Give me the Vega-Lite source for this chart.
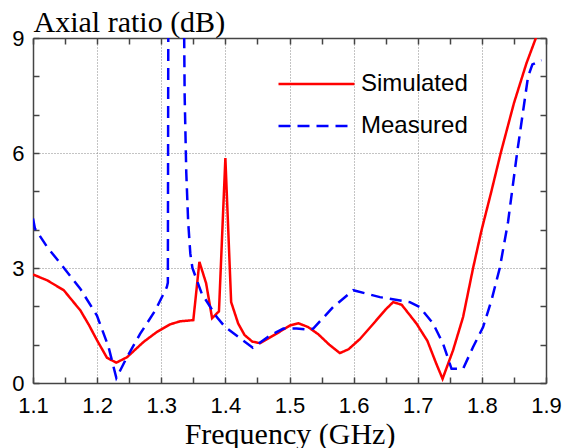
{
  "$schema": "https://vega.github.io/schema/vega-lite/v6.json",
  "width": 513,
  "height": 345,
  "autosize": "none",
  "padding": {"left": 33, "top": 38, "right": 18, "bottom": 65},
  "background": "white",
  "config": {
    "view": {"stroke": null},
    "legend": {
      "symbolType": "stroke",
      "symbolSize": 5776,
      "symbolStrokeWidth": 2.5,
      "labelFont": "Liberation Sans",
      "labelFontSize": 24,
      "labelColor": "black",
      "labelOffset": 5,
      "clipHeight": 30,
      "rowPadding": 12,
      "padding": 0
    }
  },
  "data": {
    "values": [
      {"series": "Simulated", "f": 1.1, "ar": 2.83},
      {"series": "Simulated", "f": 1.122, "ar": 2.68},
      {"series": "Simulated", "f": 1.148, "ar": 2.42},
      {"series": "Simulated", "f": 1.174, "ar": 1.89},
      {"series": "Simulated", "f": 1.187, "ar": 1.52},
      {"series": "Simulated", "f": 1.2, "ar": 1.11},
      {"series": "Simulated", "f": 1.2153, "ar": 0.66},
      {"series": "Simulated", "f": 1.2298, "ar": 0.53},
      {"series": "Simulated", "f": 1.2464, "ar": 0.67},
      {"series": "Simulated", "f": 1.2723, "ar": 1.07},
      {"series": "Simulated", "f": 1.2931, "ar": 1.33},
      {"series": "Simulated", "f": 1.3139, "ar": 1.53},
      {"series": "Simulated", "f": 1.3294, "ar": 1.61},
      {"series": "Simulated", "f": 1.35, "ar": 1.64},
      {"series": "Simulated", "f": 1.3595, "ar": 3.16},
      {"series": "Simulated", "f": 1.37, "ar": 2.6},
      {"series": "Simulated", "f": 1.3793, "ar": 1.69},
      {"series": "Simulated", "f": 1.39, "ar": 1.87},
      {"series": "Simulated", "f": 1.4, "ar": 5.87},
      {"series": "Simulated", "f": 1.409, "ar": 2.11},
      {"series": "Simulated", "f": 1.42, "ar": 1.55},
      {"series": "Simulated", "f": 1.43, "ar": 1.25},
      {"series": "Simulated", "f": 1.442, "ar": 1.08},
      {"series": "Simulated", "f": 1.454, "ar": 1.04},
      {"series": "Simulated", "f": 1.48, "ar": 1.29},
      {"series": "Simulated", "f": 1.5008, "ar": 1.5},
      {"series": "Simulated", "f": 1.5138, "ar": 1.56},
      {"series": "Simulated", "f": 1.529, "ar": 1.46},
      {"series": "Simulated", "f": 1.545, "ar": 1.27},
      {"series": "Simulated", "f": 1.562, "ar": 1.0},
      {"series": "Simulated", "f": 1.5786, "ar": 0.78},
      {"series": "Simulated", "f": 1.592, "ar": 0.88},
      {"series": "Simulated", "f": 1.61, "ar": 1.15},
      {"series": "Simulated", "f": 1.632, "ar": 1.57},
      {"series": "Simulated", "f": 1.65, "ar": 1.92},
      {"series": "Simulated", "f": 1.6617, "ar": 2.11},
      {"series": "Simulated", "f": 1.675, "ar": 2.04},
      {"series": "Simulated", "f": 1.698, "ar": 1.55},
      {"series": "Simulated", "f": 1.715, "ar": 1.1},
      {"series": "Simulated", "f": 1.729, "ar": 0.5},
      {"series": "Simulated", "f": 1.7387, "ar": 0.11},
      {"series": "Simulated", "f": 1.755, "ar": 0.85},
      {"series": "Simulated", "f": 1.7707, "ar": 1.72},
      {"series": "Simulated", "f": 1.7863, "ar": 3.0},
      {"series": "Simulated", "f": 1.7994, "ar": 3.98},
      {"series": "Simulated", "f": 1.8141, "ar": 4.95},
      {"series": "Simulated", "f": 1.8294, "ar": 6.0},
      {"series": "Simulated", "f": 1.85, "ar": 7.3},
      {"series": "Simulated", "f": 1.8695, "ar": 8.34},
      {"series": "Simulated", "f": 1.8849, "ar": 9.03},
      {"series": "Measured", "f": 1.1, "ar": 4.29},
      {"series": "Measured", "f": 1.103, "ar": 4.03},
      {"series": "Measured", "f": 1.122, "ar": 3.55},
      {"series": "Measured", "f": 1.145, "ar": 3.07},
      {"series": "Measured", "f": 1.1737, "ar": 2.46},
      {"series": "Measured", "f": 1.1997, "ar": 1.76},
      {"series": "Measured", "f": 1.2178, "ar": 0.94},
      {"series": "Measured", "f": 1.23, "ar": 0.13},
      {"series": "Measured", "f": 1.2464, "ar": 0.67},
      {"series": "Measured", "f": 1.267, "ar": 1.28},
      {"series": "Measured", "f": 1.2905, "ar": 1.89},
      {"series": "Measured", "f": 1.3087, "ar": 2.5},
      {"series": "Measured", "f": 1.3103, "ar": 2.62},
      {"series": "Measured", "f": 1.3113, "ar": 12},
      {"series": "Measured", "f": 1.3343, "ar": 12},
      {"series": "Measured", "f": 1.3365, "ar": 7.5},
      {"series": "Measured", "f": 1.339, "ar": 5.5},
      {"series": "Measured", "f": 1.342, "ar": 4.2},
      {"series": "Measured", "f": 1.3453, "ar": 3.38},
      {"series": "Measured", "f": 1.3486, "ar": 3.0},
      {"series": "Measured", "f": 1.3632, "ar": 2.33},
      {"series": "Measured", "f": 1.3866, "ar": 1.72},
      {"series": "Measured", "f": 1.3996, "ar": 1.46},
      {"series": "Measured", "f": 1.4427, "ar": 0.92},
      {"series": "Measured", "f": 1.4696, "ar": 1.24},
      {"series": "Measured", "f": 1.4904, "ar": 1.42},
      {"series": "Measured", "f": 1.511, "ar": 1.42},
      {"series": "Measured", "f": 1.529, "ar": 1.39},
      {"series": "Measured", "f": 1.537, "ar": 1.42},
      {"series": "Measured", "f": 1.568, "ar": 1.98},
      {"series": "Measured", "f": 1.5994, "ar": 2.42},
      {"series": "Measured", "f": 1.641, "ar": 2.24},
      {"series": "Measured", "f": 1.6877, "ar": 2.11},
      {"series": "Measured", "f": 1.703, "ar": 1.98},
      {"series": "Measured", "f": 1.724, "ar": 1.55},
      {"series": "Measured", "f": 1.7396, "ar": 1.02},
      {"series": "Measured", "f": 1.7527, "ar": 0.37},
      {"series": "Measured", "f": 1.7707, "ar": 0.37},
      {"series": "Measured", "f": 1.7863, "ar": 0.94},
      {"series": "Measured", "f": 1.8019, "ar": 1.46},
      {"series": "Measured", "f": 1.815, "ar": 2.16},
      {"series": "Measured", "f": 1.8279, "ar": 3.0},
      {"series": "Measured", "f": 1.8408, "ar": 4.2},
      {"series": "Measured", "f": 1.8549, "ar": 6.0},
      {"series": "Measured", "f": 1.872, "ar": 7.99},
      {"series": "Measured", "f": 1.8788, "ar": 8.31},
      {"series": "Measured", "f": 1.893, "ar": 8.42}
    ]
  },
  "resolve": {"axis": {"x": "independent", "y": "independent"}},
  "layer": [
    {
      "transform": [{"filter": "datum.series == 'Simulated'"}],
      "mark": {"type": "line", "strokeWidth": 2.5, "clip": true},
      "encoding": {
        "x": {
          "field": "f", "type": "quantitative",
          "scale": {"domain": [1.1, 1.9], "nice": false, "zero": false},
          "axis": {
            "orient": "bottom",
            "values": [1.1, 1.15, 1.2, 1.25, 1.3, 1.35, 1.4, 1.45, 1.5, 1.55, 1.6, 1.65, 1.7, 1.75, 1.8, 1.85, 1.9],
            "labelExpr": "(round(datum.value*100) % 10 == 0) ? format(datum.value, '.1f') : ''",
            "labelFlush": false,
            "labelOverlap": false,
            "labelFont": "Liberation Sans",
            "labelFontSize": 22,
            "labelColor": "black",
            "labelPadding": 18,
            "tickSize": -6,
            "tickColor": "#444",
            "tickWidth": 1.5,
            "domainColor": "#444",
            "domainWidth": 1.5,
            "grid": true,
            "gridColor": "#888",
            "gridDash": [1, 2],
            "gridWidth": 1,
            "gridOpacity": {"condition": {"test": "round(datum.value*100) % 10 == 0 && datum.value > 1.11 && datum.value < 1.89", "value": 1}, "value": 0},
            "title": "Frequency (GHz)",
            "titleFont": "Liberation Serif",
            "titleFontSize": 30,
            "titleFontWeight": "normal",
            "titleColor": "black",
            "titleBaseline": "alphabetic",
            "titleY": 60
          }
        },
        "y": {
          "field": "ar", "type": "quantitative",
          "scale": {"domain": [0, 9], "nice": false},
          "axis": {
            "orient": "left",
            "values": [0, 1, 2, 3, 4, 5, 6, 7, 8, 9],
            "labelExpr": "(datum.value % 3 == 0) ? format(datum.value, 'd') : ''",
            "labelOverlap": false,
            "labelFlush": false,
            "labelFont": "Liberation Sans",
            "labelFontSize": 22,
            "labelColor": "black",
            "labelPadding": 15,
            "tickSize": -6,
            "tickColor": "#444",
            "tickWidth": 1.5,
            "domainColor": "#444",
            "domainWidth": 1.5,
            "grid": true,
            "gridColor": "#888",
            "gridDash": [1, 2],
            "gridWidth": 1,
            "gridOpacity": {"condition": {"test": "datum.value == 3 || datum.value == 6", "value": 1}, "value": 0},
            "title": "Axial ratio (dB)",
            "titleFont": "Liberation Serif",
            "titleFontSize": 30,
            "titleFontWeight": "normal",
            "titleColor": "black",
            "titleAngle": 0,
            "titleAlign": "left",
            "titleBaseline": "alphabetic",
            "titleX": 0,
            "titleY": -7
          }
        },
        "color": {
          "field": "series", "type": "nominal",
          "scale": {"domain": ["Simulated", "Measured"], "range": ["#ff0000", "#0000ff"]},
          "legend": {"orient": "none", "legendX": 244, "legendY": 31, "title": null}
        },
        "strokeDash": {
          "field": "series", "type": "nominal",
          "scale": {"domain": ["Simulated", "Measured"], "range": [[1, 0], [12, 7]]},
          "legend": {"orient": "none", "legendX": 244, "legendY": 31, "title": null}
        }
      }
    },
    {
      "transform": [{"filter": "datum.series == 'Measured'"}],
      "mark": {"type": "line", "strokeWidth": 2.5, "clip": true},
      "encoding": {
        "x": {
          "field": "f", "type": "quantitative",
          "axis": {
            "orient": "top",
            "values": [1.1, 1.15, 1.2, 1.25, 1.3, 1.35, 1.4, 1.45, 1.5, 1.55, 1.6, 1.65, 1.7, 1.75, 1.8, 1.85, 1.9],
            "labels": false,
            "grid": false,
            "tickSize": -6,
            "tickColor": "#444",
            "tickWidth": 1.5,
            "domainColor": "#444",
            "domainWidth": 1.5,
            "title": null
          }
        },
        "y": {
          "field": "ar", "type": "quantitative",
          "axis": {
            "orient": "right",
            "values": [0, 1, 2, 3, 4, 5, 6, 7, 8, 9],
            "labels": false,
            "grid": false,
            "tickSize": -6,
            "tickColor": "#444",
            "tickWidth": 1.5,
            "domainColor": "#444",
            "domainWidth": 1.5,
            "title": null
          }
        },
        "color": {"field": "series", "type": "nominal"},
        "strokeDash": {"field": "series", "type": "nominal"}
      }
    }
  ]
}
